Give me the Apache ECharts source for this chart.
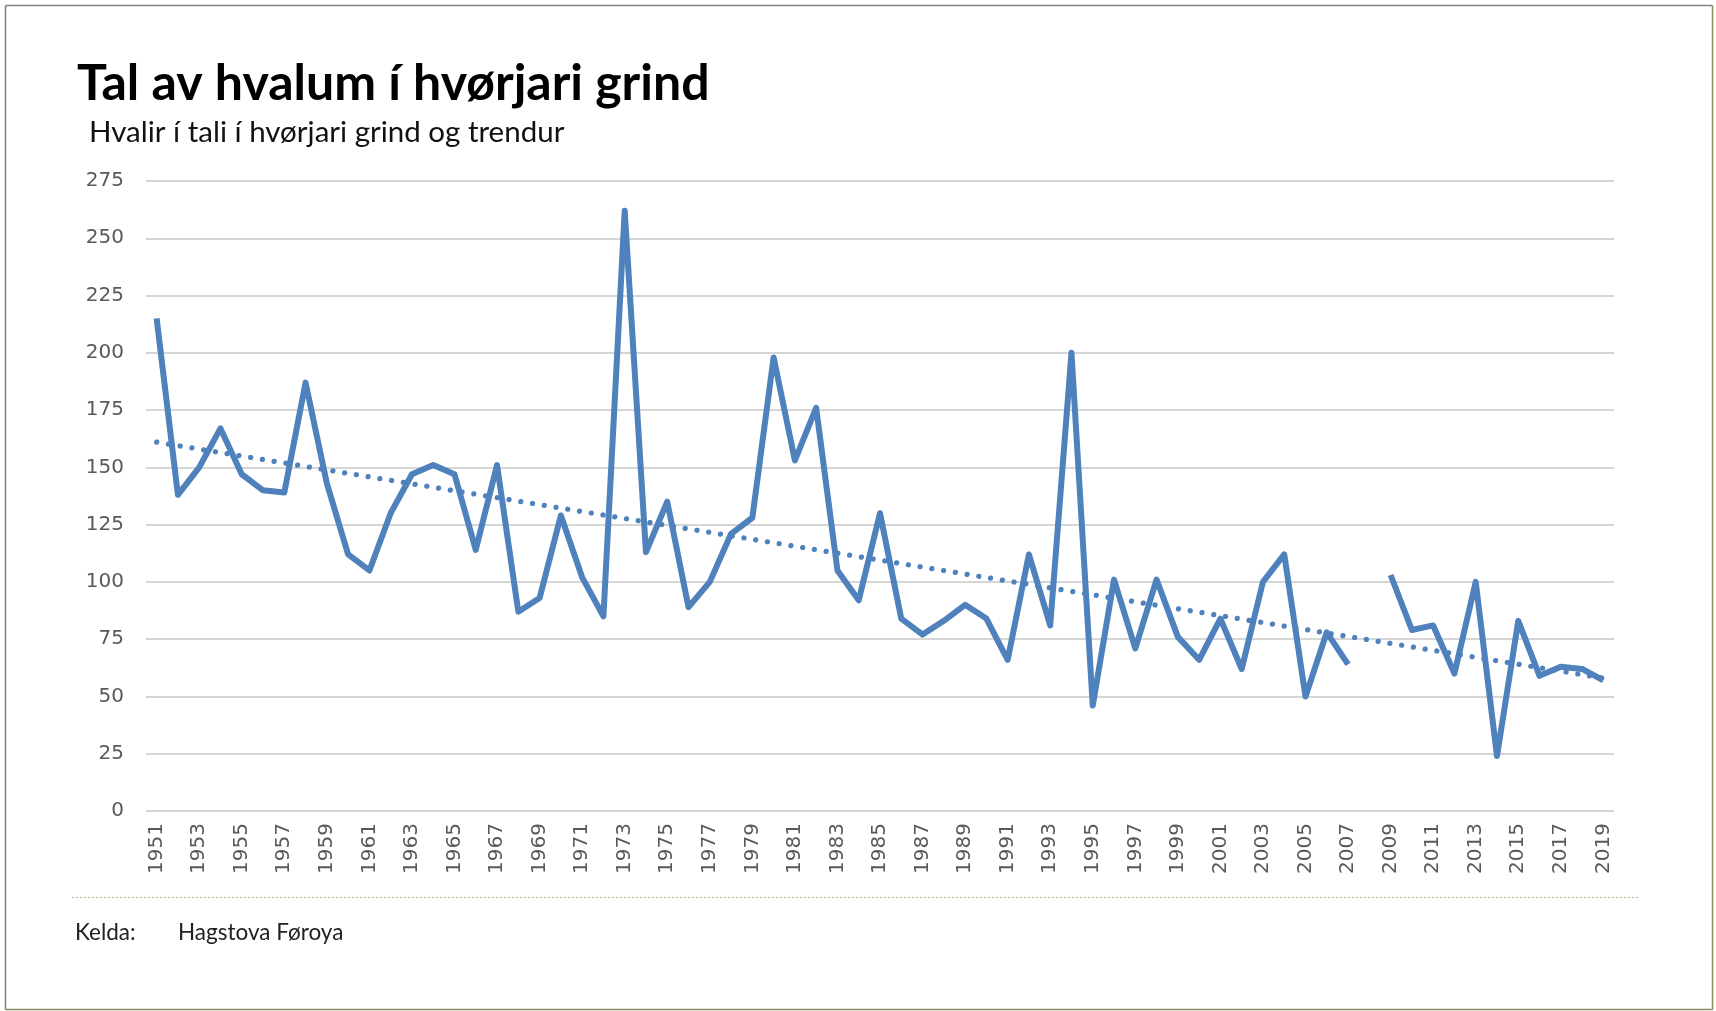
<!DOCTYPE html>
<html>
<head>
<meta charset="utf-8">
<script src="https://cdn.jsdelivr.net/npm/echarts@6/dist/echarts.min.js"></script>
<style>
html,body{margin:0;padding:0;background:#fff;}
#chart{width:1716px;height:1011px;}
</style>
</head>
<body>
<div id="chart"></div>
<script>
const years = [];
for (let y = 1951; y <= 2019; y++) years.push(String(y));

const whales = [
  215, 138, 150, 167, 147, 140, 139, 187, 143, 112,
  105, 130, 147, 151, 147, 114, 151, 87, 93, 129,
  102, 85, 262, 113, 135, 89, 100, 121, 128, 198,
  153, 176, 105, 92, 130, 84, 77, 83, 90, 84,
  66, 112, 81, 200, 46, 101, 71, 101, 76, 66,
  84, 62, 100, 112, 50, 78, 64, null, 103, 79,
  81, 60, 100, 24, 83, 59, 63, 62, 57
];

// trend line end points (1951 and 2019)
const trendStart = 161;
const trendEnd = 58;
const trend = years.map((y, i) => i === 0 ? trendStart : (i === years.length - 1 ? trendEnd : null));

const yTicks = { min: 0, max: 275, interval: 25 };

const chart = echarts.init(document.getElementById('chart'), null, { renderer: 'canvas' });
chart.setOption({
  backgroundColor: '#ffffff',
  animation: false,
  title: [
    { text: 'Tal av hvalum í hvørjari grind', left: 72, top: 54,
      textStyle: { fontFamily: 'Lato', fontWeight: 'bold', fontSize: 50, color: '#000' } },
    { text: 'Hvalir í tali í hvørjari grind og trendur', left: 84, top: 112,
      textStyle: { fontFamily: 'Lato', fontWeight: 'normal', fontSize: 29.5, color: '#111' } },
    { text: 'Kelda:', left: 70, top: 916,
      textStyle: { fontFamily: 'Lato', fontWeight: 'normal', fontSize: 22.5, color: '#222' } },
    { text: 'Hagstova Føroya', left: 173, top: 916,
      textStyle: { fontFamily: 'Lato', fontWeight: 'normal', fontSize: 22.5, color: '#222' } }
  ],
  grid: { left: 146, right: 102, top: 181, bottom: 200, containLabel: false },
  xAxis: {
    type: 'category',
    data: years,
    boundaryGap: true,
    axisLine: { show: false },
    axisTick: { show: false },
    axisLabel: { interval: 1, rotate: 90, margin: 12, color: '#595959',
      fontFamily: 'DejaVu Sans', fontSize: 20 }
  },
  yAxis: {
    type: 'value',
    min: yTicks.min, max: yTicks.max, interval: yTicks.interval,
    axisLine: { show: false },
    axisTick: { show: false },
    axisLabel: { margin: 22, color: '#595959', fontFamily: 'DejaVu Sans', fontSize: 20 },
    splitLine: { lineStyle: { color: '#c8c8c8', width: 1.5 } }
  },
  series: [
    { type: 'line', data: whales, showSymbol: false, connectNulls: false,
      lineStyle: { color: '#4f81bd', width: 6, join: 'round' }, z: 3 },
    { type: 'line', data: trend, showSymbol: false, connectNulls: true,
      lineStyle: { color: '#4f81bd', width: 5.2, type: [0.1, 11.8], cap: 'round' }, z: 2 }
  ],
  graphic: [
    { type: 'line', shape: { x1: 5.5, y1: 5.5, x2: 1712.5, y2: 5.5 },
      style: { stroke: '#808080', lineWidth: 1.5 }, silent: true },
    { type: 'line', shape: { x1: 5.5, y1: 5.5, x2: 5.5, y2: 1009.5 },
      style: { stroke: '#808080', lineWidth: 1.5 }, silent: true },
    { type: 'line', shape: { x1: 1712.5, y1: 5.5, x2: 1712.5, y2: 1009.5 },
      style: { stroke: '#8c8c5c', lineWidth: 1.5 }, silent: true },
    { type: 'line', shape: { x1: 5.5, y1: 1009.5, x2: 1712.5, y2: 1009.5 },
      style: { stroke: '#8c8c5c', lineWidth: 1.5 }, silent: true },
    { type: 'line', shape: { x1: 72, y1: 897.5, x2: 1640, y2: 897.5 },
      style: { stroke: '#c4bd97', lineWidth: 1.2, lineDash: [2, 2] }, silent: true }
  ]
});
</script>
</body>
</html>
